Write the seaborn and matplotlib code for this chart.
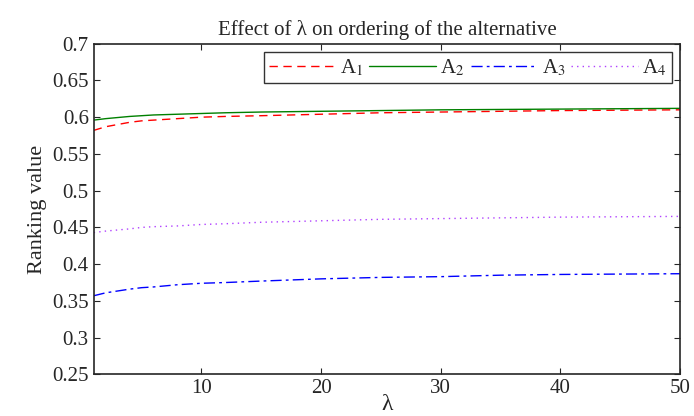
import numpy as np
import pandas as pd
import matplotlib
matplotlib.use("Agg")
import matplotlib.pyplot as plt
import seaborn as sns

# values
lam = [1, 2, 3, 4, 5, 6, 8, 10, 12, 15, 20, 25, 30, 35, 40, 45, 50]
a1 = [0.582, 0.587, 0.590, 0.593, 0.595, 0.596, 0.598, 0.600, 0.601, 0.602, 0.604, 0.606, 0.607, 0.608, 0.609, 0.6095, 0.610]
a2 = [0.596, 0.598, 0.5995, 0.601, 0.602, 0.603, 0.604, 0.605, 0.606, 0.607, 0.608, 0.609, 0.610, 0.6105, 0.611, 0.6115, 0.612]
a3 = [0.357, 0.361, 0.3635, 0.366, 0.368, 0.369, 0.372, 0.374, 0.375, 0.377, 0.380, 0.382, 0.383, 0.385, 0.386, 0.3865, 0.387]
a4 = [0.443, 0.445, 0.4465, 0.448, 0.450, 0.451, 0.452, 0.454, 0.455, 0.457, 0.459, 0.461, 0.462, 0.463, 0.464, 0.4645, 0.465]

labels = ["A$_1$", "A$_2$", "A$_3$", "A$_4$"]
colors = ["red", "green", "blue", "#b040ff"]
styles = [(0, (6, 4)), "-", (0, (8, 3, 2, 3)), (0, (1, 3))]

df = pd.DataFrame({"lam": lam, "A1": a1, "A2": a2, "A3": a3, "A4": a4})
long = df.melt(id_vars="lam", var_name="alt", value_name="val")

sns.set_style("ticks")
plt.rcParams["font.family"] = ["Liberation Serif", "DejaVu Serif"]
plt.rcParams["mathtext.fontset"] = "stix"

fig, ax = plt.subplots(figsize=(6.94, 4.16), dpi=100)
for key, lab, c, ls in zip(["A1", "A2", "A3", "A4"], labels, colors, styles):
    sns.lineplot(data=long[long["alt"] == key], x="lam", y="val", ax=ax,
                 color=c, linestyle=ls, linewidth=1.0, label=lab)

ax.set_xlim(1, 50)
ax.set_ylim(0.25, 0.7)
ax.set_xticks([10, 20, 30, 40, 50])
ax.set_yticks(np.arange(0.25, 0.701, 0.05))
ax.set_yticklabels(["0.25", "0.3", "0.35", "0.4", "0.45", "0.5", "0.55", "0.6", "0.65", "0.7"])
ax.tick_params(labelsize=15, direction="in", length=4, width=0.8)
ax.tick_params(top=True, right=True)
for s in ax.spines.values():
    s.set_linewidth(1.2)

ax.set_xlabel("λ", fontsize=17, labelpad=-3)
ax.set_ylabel("Ranking value", fontsize=16)
ax.set_title("Effect of λ on ordering of the alternative", fontsize=15)

leg = ax.legend(loc="upper right", ncol=4, fontsize=15, frameon=True, fancybox=False,
                handlelength=3.2, columnspacing=0.3, handletextpad=0.2,
                borderpad=0.25, borderaxespad=0.4)
leg.get_frame().set_edgecolor("black")
leg.get_frame().set_linewidth(1.0)

fig.subplots_adjust(left=0.135, right=0.98, top=0.895, bottom=0.10)
fig.savefig("out.png", dpi=100)
